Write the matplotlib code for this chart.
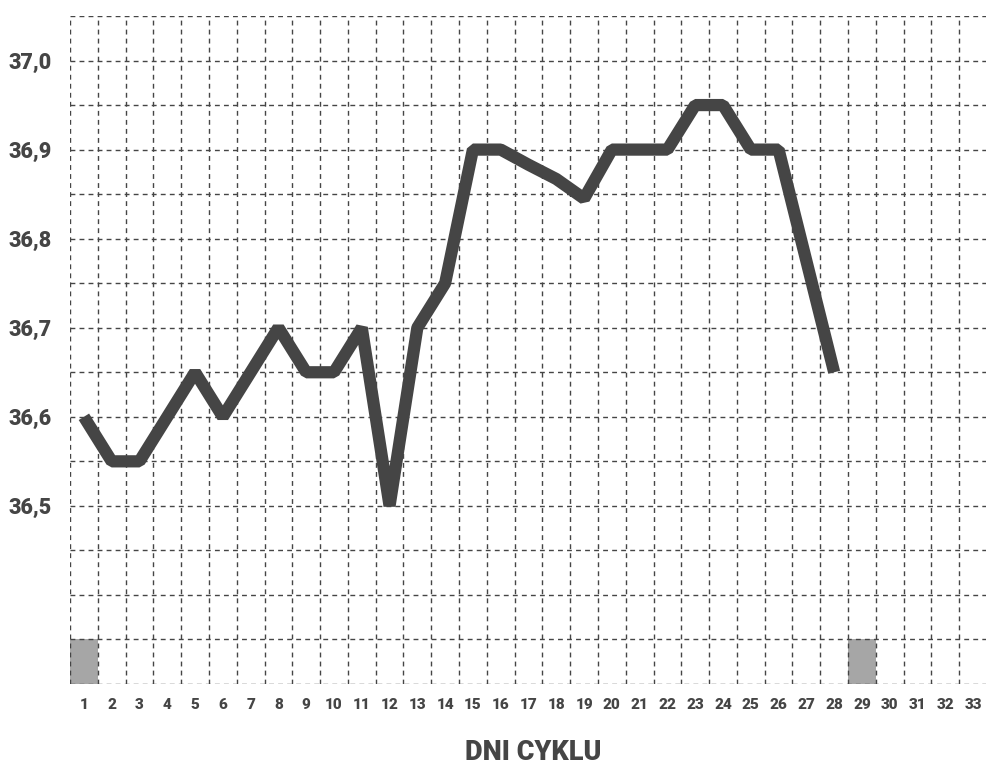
import matplotlib.pyplot as plt

# temperature readings per day of cycle
days = list(range(1, 29))
temps = [36.6, 36.55, 36.55, 36.6, 36.65, 36.6, 36.65, 36.7, 36.65, 36.65,
         36.7, 36.5, 36.7, 36.75, 36.9, 36.9, 36.883, 36.867, 36.845, 36.9,
         36.9, 36.9, 36.95, 36.95, 36.9, 36.9, 36.775, 36.65]

# shaded days (bottom row)
marked_days = [1, 29]

all_days = list(range(1, 34))
y_labels = [36.5, 36.6, 36.7, 36.8, 36.9, 37.0]

ink = '#454545'
plt.rcParams['font.family'] = ['Roboto', 'DejaVu Sans']

fig = plt.figure(figsize=(9.87, 7.67), dpi=100)
ax = fig.add_axes([70 / 987, 83 / 767, 917 / 987, 668 / 767])
ax.set_xlim(0.5, 33.5)
ax.set_ylim(36.3, 37.05)

# dashed grid at every cell border
x_edges = [d - 0.5 for d in all_days] + [33.5]
y_edges = [36.3 + 0.05 * i for i in range(16)]
for x in x_edges:
    ax.axvline(x, color=ink, lw=1.0, ls=(0, (3.5, 3)), zorder=1)
for y in y_edges:
    ax.axhline(y, color=ink, lw=1.0, ls=(0, (3.5, 3)), zorder=1)

# shaded cells
ax.bar(marked_days, 0.05, width=1.0, bottom=36.3, color='#a6a6a6', zorder=0)

# temperature line
ax.plot(days, temps, color=ink, lw=8.8, solid_joinstyle='bevel',
        solid_capstyle='butt', zorder=3)

for s in ax.spines.values():
    s.set_visible(False)

ax.set_xticks(all_days)
ax.set_xticklabels([str(d) for d in all_days], fontsize=11, fontweight='heavy', color=ink)
ax.set_yticks(y_labels)
ax.set_yticklabels([f'{v:.1f}'.replace('.', ',') for v in y_labels],
                   fontsize=15.5, fontweight='heavy', color=ink)
ax.tick_params(axis='x', length=0, pad=10)
ax.tick_params(axis='y', length=0, pad=13)

fig.text(533 / 987, 15 / 767, 'DNI CYKLU', ha='center', va='center',
         fontsize=19.5, fontweight='heavy', color=ink)

fig.savefig('out.png', dpi=100)
